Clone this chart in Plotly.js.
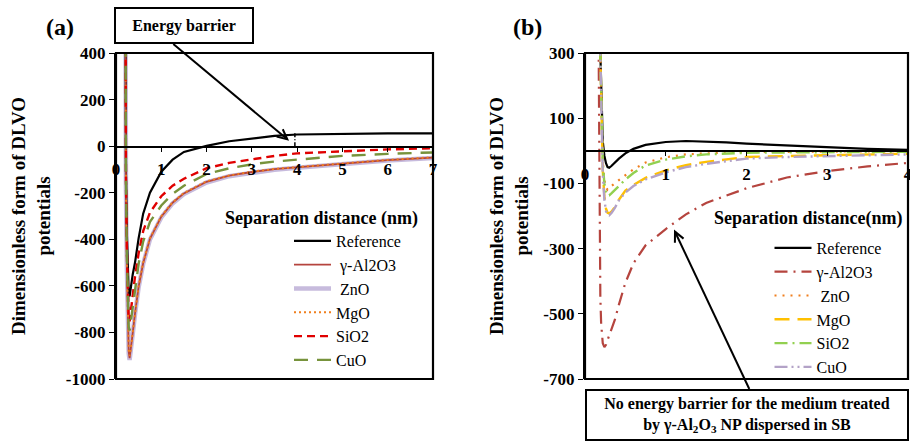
<!DOCTYPE html>
<html><head><meta charset="utf-8">
<script src="https://cdn.plot.ly/plotly-3.0.1.min.js"></script>
<style>html,body{margin:0;padding:0;background:#fff}#chart{width:910px;height:442px}</style>
</head><body><div id="chart"></div>
<script>
// ---------- Panel (a) data ----------
const xA = [0.17,0.2,0.22,0.24,0.26,0.28,0.3,0.33,0.37,0.42,0.5,0.6,0.75,1,1.25,1.5,2,2.5,3,3.5,4,5,6,7];
const refA   = [4000,400,-120,-380,-545,-635,-645,-600,-550,-500,-395,-290,-200,-110,-58,-25,1,21,34,44,50,54,55,55];
const al2o3A = [4000,400,-175,-515,-755,-882,-910,-872,-802,-718,-603,-503,-398,-303,-243,-203,-153,-127,-111,-99,-91,-74,-60,-49];
const znoA   = [4000,400,-180,-520,-760,-890,-918,-878,-806,-722,-606,-506,-401,-306,-246,-206,-156,-129,-113,-101,-93,-76,-62,-51];
const mgoA   = [4000,400,-172,-510,-748,-875,-900,-866,-798,-715,-600,-500,-396,-301,-241,-201,-151,-126,-110,-98,-90,-73,-59,-48];
const sio2A  = [4000,400,-150,-440,-630,-735,-752,-700,-630,-560,-460,-365,-285,-215,-170,-140,-95,-72,-57,-42,-31,-22,-14,-9];
const cuoA   = [4000,400,-160,-460,-670,-775,-792,-750,-680,-610,-505,-410,-325,-255,-205,-170,-120,-95,-78,-66,-57,-42,-33,-27];

// ---------- Panel (b) data ----------
const xB = [0.15,0.165,0.18,0.19,0.2,0.21,0.22,0.24,0.26,0.28,0.3,0.33,0.37,0.42,0.5,0.6,0.75,1,1.25,1.5,1.75,2,2.5,3,3.5,4];
const refB   = [2500,1200,500,300,180,100,30,-15,-38,-50,-52,-46,-36,-24,-8,6,18,27,30,29,26,22,16,10,6,3];
const al2o3B = [1000,300,-250,-450,-530,-570,-590,-602,-595,-580,-565,-548,-518,-472,-405,-345,-290,-240,-195,-160,-137,-115,-82,-62,-48,-37];
const znoB   = [3000,1500,600,300,150,40,-30,-90,-112,-120,-117,-108,-99,-90,-75,-57,-36,-20,-11,-7,-5,-4,-3,-2,-2,-1];
const mgoB   = [3000,1500,600,300,140,30,-60,-140,-178,-190,-192,-186,-172,-150,-122,-105,-83,-60,-44,-34,-27,-19,-16,-13,-11,-9];
const sio2B  = [3000,1500,600,300,150,40,-40,-100,-128,-138,-137,-130,-120,-106,-88,-68,-45,-27,-17,-11,-8,-6,-5,-4,-3,-3];
const cuoB   = [3000,1500,600,300,140,25,-70,-150,-185,-196,-198,-190,-175,-152,-128,-108,-88,-66,-50,-40,-32,-24,-19,-16,-13,-11];

const namesA = ['Reference',' γ-Al2O3',' ZnO','MgO','SiO2','CuO'];
const namesB = ['Reference','γ-Al2O3',' ZnO','MgO','SiO2','CuO'];
const xTicksA = [0,1,2,3,4,5,6,7];
const yTicksA = [400,200,0,-200,-400,-600,-800,-1000];
const xTicksB = [0,1,2,3,4];
const yTicksB = [300,100,-100,-300,-500,-700];

const FONT = 'Liberation Serif';

const stylesA = [
  {color:'#000000', width:2.2, dash:'solid'},
  {color:'#B5443E', width:1.8, dash:'solid'},
  {color:'#C7BBDD', width:4.5, dash:'solid'},
  {color:'#F07F1E', width:2, dash:'2px,3px'},
  {color:'#E00000', width:2.4, dash:'8px,5px'},
  {color:'#77933C', width:2.4, dash:'14px,9px'}
];
const stylesB = [
  {color:'#000000', width:2.2, dash:'solid'},
  {color:'#B5443E', width:2.2, dash:'13px,6px,2px,6px'},
  {color:'#F07F1E', width:2.2, dash:'2px,6px'},
  {color:'#FFC000', width:2.4, dash:'15px,8px'},
  {color:'#92D050', width:2.4, dash:'13px,5px,2px,5px'},
  {color:'#B3A2C7', width:2.4, dash:'13px,4px,2px,4px,2px,4px'}
];
const seriesA = [refA, al2o3A, znoA, mgoA, sio2A, cuoA];
const seriesB = [refB, al2o3B, znoB, mgoB, sio2B, cuoB];
// drawing order for panel a (thick lavender ZnO underneath)
const drawOrderA = [2,0,1,3,4,5];

const traces = [];
drawOrderA.forEach(i=>{
  traces.push({x:xA, y:seriesA[i], type:'scatter', mode:'lines', name:namesA[i], legendrank:i+1,
    xaxis:'x', yaxis:'y', legend:'legend', line:stylesA[i], hoverinfo:'skip'});
});
seriesB.forEach((ys,i)=>{
  traces.push({x:xB, y:ys, type:'scatter', mode:'lines', name:namesB[i], legendrank:i+1,
    xaxis:'x2', yaxis:'y2', legend:'legend2', line:stylesB[i], hoverinfo:'skip'});
});

const W = 910, H = 442;
const px = v => v / W;
const py = v => 1 - v / H;

// open "V" arrow drawn as shapes in paper pixels (tail -> head)
function arrowShapes(x0,y0,x1,y1){
  const dx=x1-x0, dy=y1-y0, L=Math.hypot(dx,dy), ux=dx/L, uy=dy/L;
  const hl=11, a=0.45;
  const rot=(s)=>[x1-hl*(ux*Math.cos(s)-uy*Math.sin(s)), y1-hl*(ux*Math.sin(s)+uy*Math.cos(s))];
  const p1=rot(a), p2=rot(-a);
  const ln={color:'#000', width:2};
  return [
    {type:'line', xref:'paper', yref:'paper', x0:px(x0), y0:py(y0), x1:px(x1), y1:py(y1), line:ln, layer:'above'},
    {type:'path', xref:'paper', yref:'paper', path:`M${px(p1[0])},${py(p1[1])} L${px(x1)},${py(y1)} L${px(p2[0])},${py(p2[1])}`, line:ln, layer:'above'}
  ];
}

const tickFont = {family:FONT, size:17, color:'#000', weight:'bold'};
const yTitle = {text:'Dimensionless form of DLVO<br>potentials', font:{family:FONT, size:19, color:'#000', weight:'bold'}, standoff:10};

const layout = {
  width:W, height:H,
  margin:{l:0, r:0, t:0, b:0},
  paper_bgcolor:'#fff', plot_bgcolor:'#fff',
  font:{family:FONT, color:'#000'},
  xaxis:{domain:[px(116), px(433)], range:[0,7], tickvals:xTicksA, ticktext:xTicksA.map(String),
    anchor:'free', position: py(146.2), showline:true, linecolor:'#000', linewidth:1.3,
    ticks:'outside', ticklen:4, tickcolor:'#000', tickfont:tickFont, ticklabelstandoff:3, ticklabeloverflow:'allow',
    showgrid:false, zeroline:false, automargin:false, fixedrange:true},
  yaxis:{domain:[py(379), py(53)], range:[-1000,400], tickvals:yTicksA, ticktext:yTicksA.map(String),
    anchor:'x', showline:true, linecolor:'#000', linewidth:2.2, ticks:'outside', ticklen:5, tickcolor:'#000',
    tickfont:tickFont, showgrid:false, zeroline:false, automargin:false, title:yTitle, fixedrange:true},
  xaxis2:{domain:[px(585), px(908)], range:[0,4], tickvals:xTicksB, ticktext:xTicksB.map(String),
    anchor:'free', position: py(151), showline:true, linecolor:'#000', linewidth:2.2,
    ticks:'outside', ticklen:4, tickcolor:'#000', tickfont:tickFont, ticklabelstandoff:3, ticklabeloverflow:'allow',
    showgrid:false, zeroline:false, automargin:false, fixedrange:true},
  yaxis2:{domain:[py(379), py(53)], range:[-700,300], tickvals:yTicksB, ticktext:yTicksB.map(String),
    anchor:'x2', showline:true, linecolor:'#000', linewidth:2.2, ticks:'outside', ticklen:5, tickcolor:'#000',
    tickfont:tickFont, showgrid:false, zeroline:false, automargin:false, title:yTitle, fixedrange:true},
  legend:{x:px(289), xanchor:'left', y:py(224), yanchor:'top', bgcolor:'rgba(0,0,0,0)',
    font:{family:FONT, size:16, color:'#000'}, itemwidth:37, tracegroupgap:0},
  legend2:{x:px(769.5), xanchor:'left', y:py(231), yanchor:'top', bgcolor:'rgba(0,0,0,0)',
    font:{family:FONT, size:16, color:'#000'}, itemwidth:37, tracegroupgap:0},
  shapes:[
    {type:'rect', xref:'x domain', yref:'y domain', x0:0, x1:1, y0:0, y1:1, line:{color:'#000', width:2.2}, layer:'above'},
    {type:'rect', xref:'x2 domain', yref:'y2 domain', x0:0, x1:1, y0:0, y1:1, line:{color:'#000', width:2.2}, layer:'above'},
    {type:'line', xref:'x', yref:'y', x0:3.95, x1:3.95, y0:55, y1:-8, line:{color:'#000', width:1.5, dash:'4px,2px,1px,2px'}},
    ...arrowShapes(173.3, 44, 287.3, 139.3),
    ...arrowShapes(749.3, 389, 675, 231.7)
  ],
  annotations:[
    {xref:'paper', yref:'paper', x:px(60), y:py(27), xanchor:'center', yanchor:'middle', text:'<b>(a)</b>', showarrow:false, font:{family:FONT, size:24, color:'#000'}},
    {xref:'paper', yref:'paper', x:px(527), y:py(27), xanchor:'center', yanchor:'middle', text:'<b>(b)</b>', showarrow:false, font:{family:FONT, size:24, color:'#000'}},
    {xref:'paper', yref:'paper', x:px(321), y:py(218), xanchor:'center', yanchor:'middle', text:'<b>Separation distance (nm)</b>', showarrow:false, font:{family:FONT, size:18, color:'#000'}},
    {xref:'paper', yref:'paper', x:px(808), y:py(218), xanchor:'center', yanchor:'middle', text:'<b>Separation distance(nm)</b>', showarrow:false, font:{family:FONT, size:18, color:'#000'}},
    {xref:'paper', yref:'paper', x:px(183.5), y:py(25.7), xanchor:'center', yanchor:'middle', text:'<b>Energy barrier</b>', showarrow:false,
      font:{family:FONT, size:16, color:'#000'}, width:134, height:31, borderpad:1, bordercolor:'#000', borderwidth:2, bgcolor:'#fff', align:'center'},
    {xref:'paper', yref:'paper', x:px(746.5), y:py(415), xanchor:'center', yanchor:'middle', text:'<b>No energy barrier for the medium treated</b><br><b>by γ-Al<sub>2</sub>O<sub>3</sub> NP dispersed in SB</b>', showarrow:false,
      font:{family:FONT, size:16, color:'#000'}, width:318, height:46, borderpad:1, bordercolor:'#000', borderwidth:2, bgcolor:'#fff', align:'center'}
  ],
  showlegend:true
};

Plotly.newPlot('chart', traces, layout, {staticPlot:true, displayModeBar:false});
</script>
</body></html>
